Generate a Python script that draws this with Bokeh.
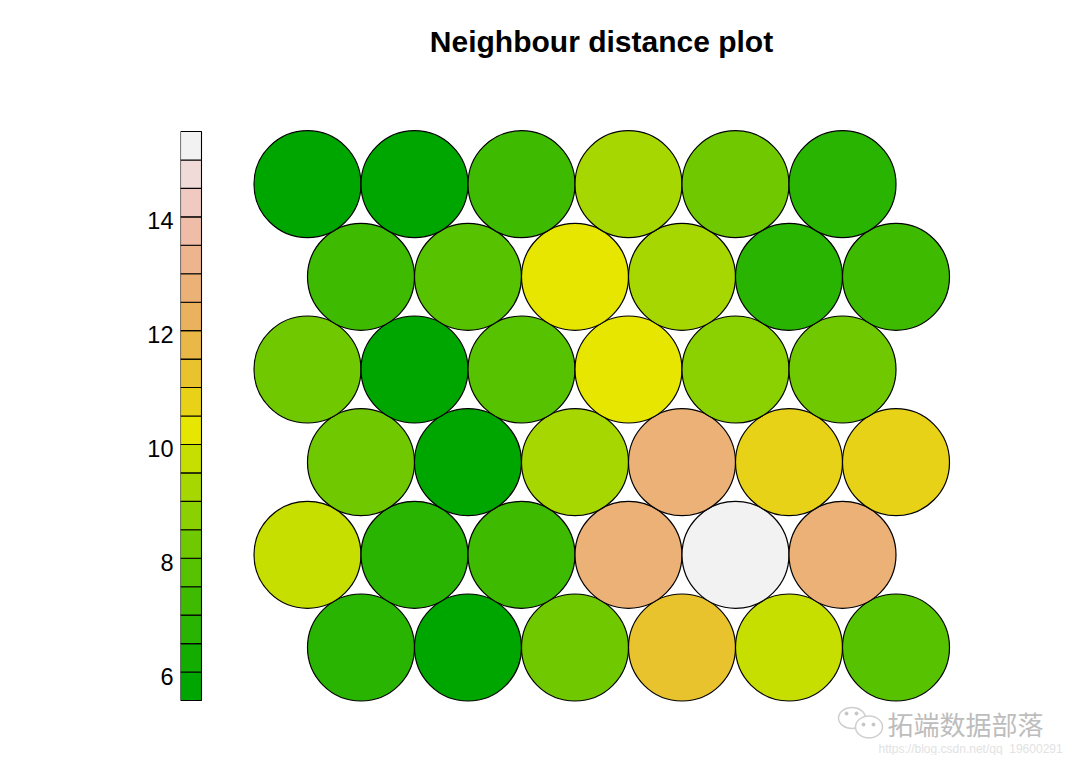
import numpy as np
from bokeh.plotting import figure
from bokeh.models import (Range1d, LinearAxis, FixedTicker, LinearColorMapper,
                          ColumnDataSource)
from bokeh.core.properties import value
from bokeh.embed import file_html
from bokeh.resources import INLINE

# ---- data: neighbour distances of a 6x6 hexagonal SOM (rows from bottom to top)
row1 = [6.78, 5.66, 8.31, 11.30, 9.74, 7.77]
row2 = [9.86, 6.85, 7.32, 12.81, 15.56, 12.74]
row3 = [8.29, 5.58, 9.35, 12.88, 10.83, 10.79]
row4 = [8.21, 5.79, 7.84, 10.33, 8.80, 8.36]
row5 = [7.28, 7.69, 10.27, 9.30, 6.92, 7.40]
row6 = [5.71, 5.62, 7.35, 9.41, 8.17, 6.87]
rows = [row1, row2, row3, row4, row5, row6]

colorbar_ticks = [6, 8, 10, 12, 14]
title_text = "Neighbour distance plot"
watermark_text = "拓端数据部落"
watermark_url = "https://blog.csdn.net/qq_19600291"

# terrain.colors(20)
palette = ["#00A600", "#13AD00", "#28B400", "#3EBB00", "#56C200", "#70C900",
           "#8BD000", "#A7D700", "#C6DE00", "#E6E600", "#E7D217", "#E8C32E",
           "#E9B846", "#EBB25E", "#ECB176", "#EDB48E", "#EEBCA7", "#F0C9C0",
           "#F1DBD9", "#F2F2F2"]

# ---- hex grid positions
xs, ys, vals = [], [], []
for r, row in enumerate(rows, start=1):
    for c, v in enumerate(row, start=1):
        xs.append(c + 0.5 * (r % 2))
        ys.append(r * np.sqrt(3) / 2)
        vals.append(v)

low, high = min(vals), max(vals)
mapper = LinearColorMapper(palette=palette, low=low, high=high)

W, H = 1064, 755
LEFT = 180
PX = 107.0  # pixels per data unit


def px2x(px):
    return 1 + (px - 307) / PX


def px2y(py):
    return np.sqrt(3) / 2 - (py - 647) / PX


x0, x1 = px2x(LEFT), px2x(W)
y0, y1 = px2y(H), px2y(0)

p = figure(width=W, height=H, x_range=Range1d(x0, x1), y_range=Range1d(y0, y1),
           output_backend="svg", toolbar_location=None,
           x_axis_location=None, y_axis_location=None,
           min_border_left=LEFT, min_border_right=0,
           min_border_top=0, min_border_bottom=0)
p.outline_line_color = None
p.grid.grid_line_color = None
p.background_fill_color = "white"
p.border_fill_color = "white"

src = ColumnDataSource(dict(x=xs, y=ys, v=vals))
p.circle(x="x", y="y", radius=0.5, source=src,
         fill_color={"field": "v", "transform": mapper},
         line_color="black", line_width=1.2)

# ---- colour bar drawn as boxes on its own value range (bar spans y=131..700 px)
k = (700 - 131) / (high - low)
p.extra_y_ranges = {"cb": Range1d(low - (H - 700) / k, high + 131 / k)}
edges = np.linspace(low, high, len(palette) + 1)
p.quad(left=px2x(LEFT), right=px2x(LEFT + 21), bottom=edges[:-1], top=edges[1:],
       fill_color=palette, line_color="black", line_width=1.1, y_range_name="cb")

ax = LinearAxis(y_range_name="cb", ticker=FixedTicker(ticks=colorbar_ticks))
ax.axis_line_color = None
ax.major_tick_line_color = None
ax.minor_tick_line_color = None
ax.major_tick_out = 0
ax.major_label_standoff = 7
ax.major_label_text_font = "Liberation Sans"
ax.major_label_text_font_size = "23.5px"
ax.major_label_text_color = "black"
p.add_layout(ax, "left")

# ---- title
p.text(x=[px2x(601)], y=[px2y(41)], text=[title_text], text_align="center",
       text_baseline="alphabetic", text_font=value("Liberation Sans"),
       text_font_size="30px", text_font_style="bold", text_color="black")

# ---- watermark (WeChat-style icon + text)
p.ellipse(x=[px2x(851.5)], y=[px2y(717.5)], width=27 / PX, height=21 / PX,
          fill_color="white", line_color="#CFCFCF", line_width=1.5)
p.ellipse(x=[px2x(868.5)], y=[px2y(726.5)], width=27 / PX, height=22 / PX,
          fill_color="white", line_color="#CFCFCF", line_width=1.5)
p.scatter(x=[px2x(846), px2x(856), px2x(863), px2x(873)],
          y=[px2y(713), px2y(713), px2y(724), px2y(724)],
          size=3, color="#C4C4C4")
p.text(x=[px2x(887)], y=[px2y(723)], text=[watermark_text], text_align="left",
       text_baseline="middle", text_font=value("Noto Sans CJK SC"),
       text_font_size="26px", text_color="#BDBDBD")
p.text(x=[px2x(878)], y=[px2y(748)], text=[watermark_url], text_align="left",
       text_baseline="middle", text_font=value("Liberation Sans"),
       text_font_size="12px", text_color="#E2E2E2")

open("out.html", "w").write(file_html(p, INLINE))
